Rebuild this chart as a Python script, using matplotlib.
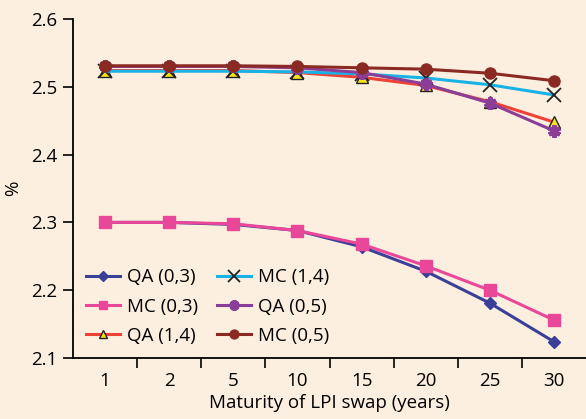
import matplotlib
matplotlib.use("Agg")
import matplotlib.pyplot as plt

maturities = ["1", "2", "5", "10", "15", "20", "25", "30"]

qa_03 = [2.300, 2.300, 2.297, 2.288, 2.264, 2.228, 2.181, 2.124]
mc_03 = [2.300, 2.300, 2.298, 2.288, 2.268, 2.236, 2.200, 2.156]
qa_14 = [2.524, 2.524, 2.524, 2.521, 2.514, 2.502, 2.478, 2.448]
mc_14 = [2.523, 2.523, 2.523, 2.522, 2.519, 2.513, 2.503, 2.488]
qa_05 = [2.530, 2.530, 2.530, 2.528, 2.521, 2.504, 2.476, 2.435]
mc_05 = [2.531, 2.531, 2.531, 2.530, 2.528, 2.526, 2.520, 2.509]

plt.rcParams["font.family"] = ["Open Sans", "DejaVu Sans"]
plt.rcParams["font.size"] = 13.5

bg = "#FDEFDF"
fig = plt.figure(figsize=(5.86, 4.19), dpi=100, facecolor=bg)
ax = fig.add_axes([73 / 586, 1 - 358 / 419, 1 - 73 / 586, (358 - 19) / 419], facecolor=bg)

x = list(range(len(maturities)))
ax.plot(x, qa_03, color="#3A3F98", lw=2.2, marker="D", ms=6, label="QA (0,3)")
ax.plot(x, mc_03, color="#E9489A", lw=2.2, marker="s", ms=8, label="MC (0,3)")
ax.plot(x, qa_14, color="#EF4136", lw=2.2, marker="^", ms=8, mfc="#F7E11B", mec="#222222", mew=1, label="QA (1,4)")
ax.plot(x, mc_14, color="#19B2E6", lw=2.2, marker="x", ms=10, mec="#222222", mew=1.3, label="MC (1,4)")
ax.plot(x, qa_05, color="#8A3E97", lw=2.2, marker=(6, 2, 0), ms=9, mew=3, mec="#8A3E97", label="QA (0,5)")
ax.plot(x, mc_05, color="#8B2923", lw=2.2, marker="o", ms=8, label="MC (0,5)")

ax.set_xlim(-0.5, 7.5)
ax.set_ylim(2.1, 2.6)
ax.set_yticks([2.1, 2.2, 2.3, 2.4, 2.5, 2.6])
ax.set_yticklabels(["2.1", "2.2", "2.3", "2.4", "2.5", "2.6"])
ax.set_xticks(x)
ax.set_xticklabels(maturities)
ax.set_xticks([i + 0.5 for i in range(7)], minor=True)
ax.tick_params(axis="x", which="major", length=0, pad=10)
ax.tick_params(axis="x", which="minor", length=7, width=1.2, direction="out")
ax.tick_params(axis="y", length=7, width=1.2, direction="out", pad=4)

for s in ["top", "right"]:
    ax.spines[s].set_visible(False)
for s in ["left", "bottom"]:
    ax.spines[s].set_linewidth(1.3)

ax.set_xlabel("Maturity of LPI swap (years)", labelpad=3)
ax.set_ylabel("%")
ax.yaxis.set_label_coords(-0.1, 0.5)

ax.legend(ncol=2, loc="lower left", bbox_to_anchor=(0.0, 0.0), frameon=False,
          handlelength=1.8, columnspacing=1.0, labelspacing=0.6, handletextpad=0.4,
          markerscale=0.8, borderaxespad=0.3)

fig.savefig("out.png", dpi=100, facecolor=bg)
